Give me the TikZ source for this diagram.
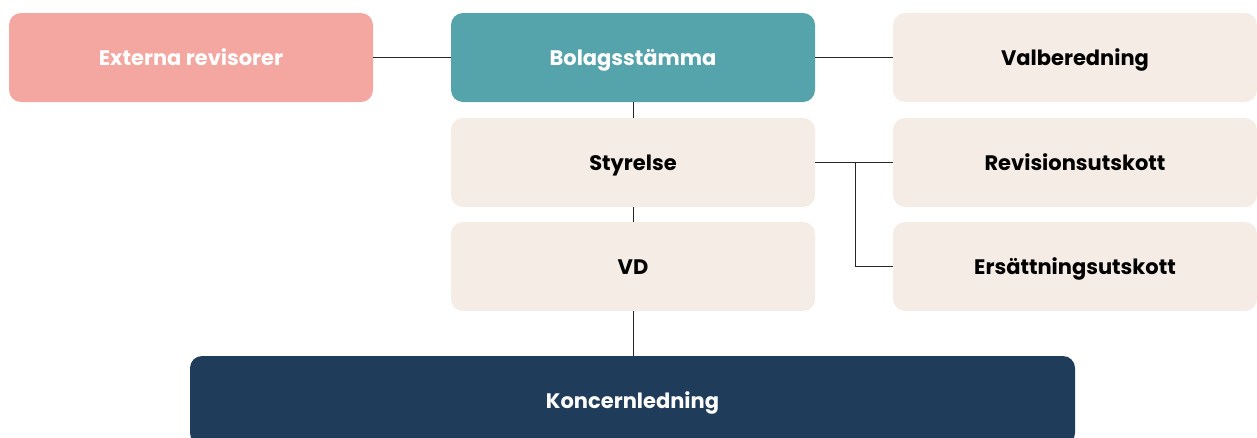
\documentclass[tikz,border=0pt]{standalone}
\usepackage{fontspec}
\setmainfont{Poppins}
\usepackage{tikz}
\usetikzlibrary{positioning}
\definecolor{rosa}{HTML}{F4A6A1}
\definecolor{teal}{HTML}{56A4AB}
\definecolor{beige}{HTML}{F6ECE6}
\definecolor{navy}{HTML}{1F3C5A}
\begin{document}
\begin{tikzpicture}[x=1pt,y=-1pt,
    box/.style={rounded corners=12pt,minimum width=364pt,minimum height=89pt,
                font=\fontsize{21}{24}\selectfont\bfseries,inner sep=0pt,
                text height=15pt,text depth=0pt},
    lightbox/.style={box,fill=beige,text=black},
    link/.style={line width=0.8pt,black!85}]
    \useasboundingbox (0,0) rectangle (1257,437);
    \clip (0,0) rectangle (1257,437);

    % top row
    \node[box,fill=rosa,text=white] (extern) at (191,57.5) {Externa revisorer};
    \node[box,fill=teal,text=white] (stamma) at (633,57.5) {Bolagsstämma};
    \node[lightbox] (valb) at (1075,57.5) {Valberedning};

    % middle
    \node[lightbox] (styrelse) at (633,162.5) {Styrelse};
    \node[lightbox] (revision) at (1075,162.5) {Revisionsutskott};
    \node[lightbox] (ersatt) at (1075,266.5) {Ersättningsutskott};
    \node[lightbox] (vd) at (633,266.5) {VD};

    % bottom
    \node[box,fill=navy,text=white,minimum width=885pt] (koncern) at (632.5,400.5) {Koncernledning};

    % connectors
    \draw[link] (extern) -- (stamma);
    \draw[link] (stamma) -- (valb);
    \draw[link] (stamma) -- (styrelse);
    \draw[link] (styrelse) -- (vd);
    \draw[link] (vd.south) -- (vd.south |- koncern.north);
    \draw[link] (styrelse) -- (revision);
    \coordinate (gren) at (855,162.5);
    \draw[link] (gren) |- (ersatt.west);
\end{tikzpicture}
\end{document}
